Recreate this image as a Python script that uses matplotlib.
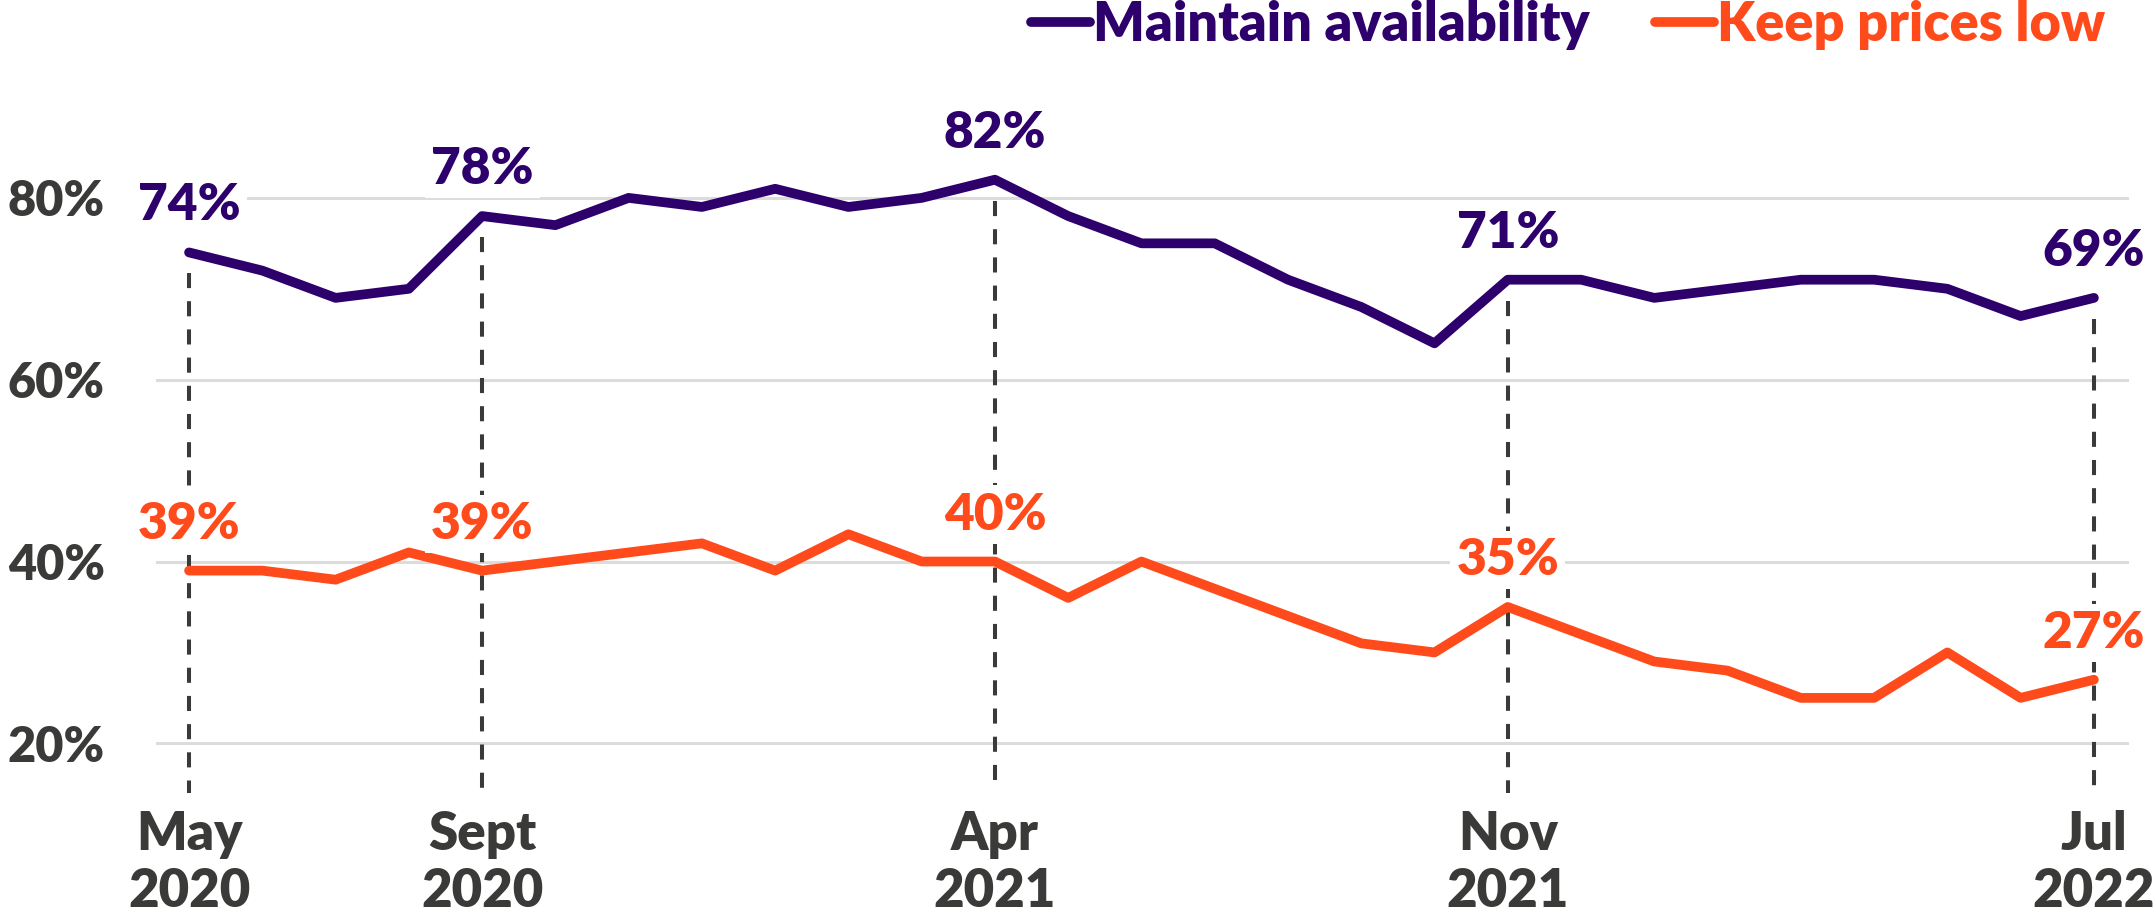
import matplotlib
matplotlib.use("Agg")
import matplotlib.pyplot as plt

# survey waves, May 2020 .. Jul 2022
waves = list(range(27))
maintain = [74, 72, 69, 70, 78, 77, 80, 79, 81, 79, 80, 82, 78, 75, 75, 71, 68, 64,
            71, 71, 69, 70, 71, 71, 70, 67, 69]
low_prices = [39, 39, 38, 41, 39, 40, 41, 42, 39, 43, 40, 40, 36, 40, 37, 34, 31, 30,
              35, 32, 29, 28, 25, 25, 30, 25, 27]

marked = [0, 4, 11, 18, 26]
marked_labels = ["May\n2020", "Sept\n2020", "Apr\n2021", "Nov\n2021", "Jul\n2022"]
y_ticks = [20, 40, 60, 80]

PURPLE = "#2e006c"
ORANGE = "#ff4b1c"
GREY = "#3a3a38"

plt.rcParams["font.family"] = ["Lato", "DejaVu Sans"]

fig = plt.figure(figsize=(21.56, 9.23), dpi=100)
ax = fig.add_axes([0.0724, 0.1257, 0.9151, 0.7584])
ax.set_xlim(-0.45, 26.48)
ax.set_ylim(13, 90)

for s in ax.spines.values():
    s.set_visible(False)

ax.set_yticks(y_ticks)
ax.set_yticklabels([f"{v}%" for v in y_ticks])
ax.tick_params(axis="y", length=0, pad=37, labelsize=35, labelcolor=GREY)
for t in ax.get_yticklabels():
    t.set_fontweight("heavy")
ax.yaxis.grid(True, color="#dcdcdc", linewidth=2.2, zorder=0)
ax.set_axisbelow(True)

ax.set_xticks(marked)
ax.set_xticklabels(marked_labels)
ax.tick_params(axis="x", length=0, pad=2, labelsize=38, labelcolor=GREY)
for t in ax.get_xticklabels():
    t.set_fontweight("heavy")

# dashed drop lines at the highlighted waves
for i in marked:
    ax.plot([i, i], [maintain[i] - 2.3, 14.5], color=GREY, linewidth=2.9,
            linestyle=(0, (3.75, 3.25)), zorder=1)

ax.plot(waves, maintain, color=PURPLE, linewidth=7, solid_capstyle="round",
        label="Maintain availability", zorder=3)
ax.plot(waves, low_prices, color=ORANGE, linewidth=7, solid_capstyle="round",
        label="Keep prices low", zorder=3)

for i in marked:
    for vals, col in [(maintain, PURPLE), (low_prices, ORANGE)]:
        ax.annotate(f"{vals[i]}%", (i, vals[i]), xytext=(0, 23), textcoords="offset points",
                    ha="center", va="baseline", fontsize=37, fontweight="heavy", color=col,
                    bbox=dict(boxstyle="square,pad=0.12", fc="white", ec="none"),
                    zorder=4, annotation_clip=False)

ax.legend(loc="upper right", bbox_to_anchor=(2105 / 2156, 1.0), bbox_transform=fig.transFigure,
          ncol=2, frameon=False, handlelength=1.1, handletextpad=0.05, columnspacing=1.2,
          borderpad=0, borderaxespad=0, labelcolor="linecolor",
          prop={"size": 39, "weight": "heavy"})

plt.savefig("out.png", dpi=100)
